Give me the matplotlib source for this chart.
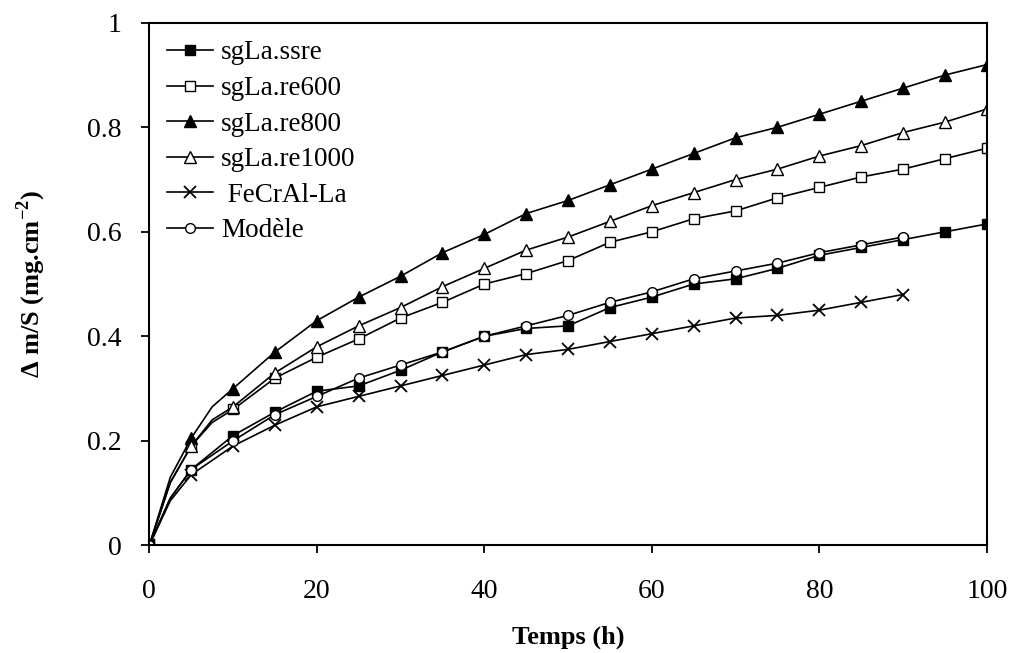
import matplotlib
matplotlib.use("Agg")
import matplotlib.pyplot as plt

plt.rcParams['font.family'] = ['Liberation Serif', 'DejaVu Serif']
plt.rcParams['mathtext.fontset'] = 'custom'
plt.rcParams['mathtext.rm'] = 'Liberation Serif'
plt.rcParams['mathtext.bf'] = 'Liberation Serif:bold'

# temps (h) -- the upper curves have extra unmarked points at 2.5 and 7.5 h,
# the lower ones at 2.5 h
t_hi = [0, 2.5, 5, 7.5, 10, 15, 20, 25, 30, 35, 40, 45, 50, 55, 60, 65, 70, 75, 80, 85, 90, 95, 100]
t_lo = [0, 2.5, 5, 10, 15, 20, 25, 30, 35, 40, 45, 50, 55, 60, 65, 70, 75, 80, 85, 90, 95, 100]
t_lo90 = t_lo[:20]

ssre = [0, 0.09, 0.145, 0.21, 0.255, 0.295, 0.305, 0.335, 0.37, 0.40, 0.415, 0.42,
        0.455, 0.475, 0.50, 0.51, 0.53, 0.555, 0.57, 0.585, 0.60, 0.615]
re600 = [0, 0.12, 0.19, 0.235, 0.26, 0.32, 0.36, 0.395, 0.435, 0.465, 0.50, 0.52, 0.545,
         0.58, 0.60, 0.625, 0.64, 0.665, 0.685, 0.705, 0.72, 0.74, 0.76]
re800 = [0, 0.13, 0.205, 0.265, 0.30, 0.37, 0.43, 0.475, 0.515, 0.56, 0.595, 0.635, 0.66,
         0.69, 0.72, 0.75, 0.78, 0.80, 0.825, 0.85, 0.875, 0.90, 0.92]
re1000 = [0, 0.12, 0.19, 0.24, 0.265, 0.33, 0.38, 0.42, 0.455, 0.495, 0.53, 0.565, 0.59,
          0.62, 0.65, 0.675, 0.70, 0.72, 0.745, 0.765, 0.79, 0.81, 0.835]
fecral = [0, 0.085, 0.135, 0.19, 0.23, 0.265, 0.285, 0.305, 0.325, 0.345, 0.365, 0.375,
          0.39, 0.405, 0.42, 0.435, 0.44, 0.45, 0.465, 0.48]
modele = [0, 0.09, 0.145, 0.20, 0.25, 0.285, 0.32, 0.345, 0.37, 0.40, 0.42, 0.44,
          0.465, 0.485, 0.51, 0.525, 0.54, 0.56, 0.575, 0.59]

# markers only every 5 h
mk_hi = [i for i, v in enumerate(t_hi) if v % 5 == 0]
mk_lo = [i for i, v in enumerate(t_lo) if v % 5 == 0]
mk_lo90 = [i for i, v in enumerate(t_lo90) if v % 5 == 0]

fig = plt.figure(figsize=(10.09, 6.53), dpi=100)
ax = fig.add_axes([0.148, 0.165, 0.830, 0.800])

lw = 1.2
ax.plot(t_lo, ssre, color='black', lw=lw, marker='s', ms=7, mfc='black', mec='black',
        markevery=mk_lo, label='sgLa.ssre')
ax.plot(t_hi, re600, color='black', lw=lw, marker='s', ms=7, mfc='white', mec='black',
        markevery=mk_hi, label='sgLa.re600')
ax.plot(t_hi, re800, color='black', lw=lw, marker='^', ms=9, mfc='black', mec='black',
        markevery=mk_hi, label='sgLa.re800')
ax.plot(t_hi, re1000, color='black', lw=lw, marker='^', ms=9, mfc='white', mec='black',
        markevery=mk_hi, label='sgLa.re1000')
ax.plot(t_lo90, fecral, color='black', lw=lw, marker='x', ms=9, mew=1.3,
        markevery=mk_lo90, label=' FeCrAl-La')
ax.plot(t_lo90, modele, color='black', lw=lw, marker='o', ms=7, mfc='white', mec='black',
        markevery=mk_lo90, label='Modèle')

ax.set_xlim(0, 100)
ax.set_ylim(0, 1)
ax.set_xticks([0, 20, 40, 60, 80, 100])
ax.set_yticks([0, 0.2, 0.4, 0.6, 0.8, 1])
ax.set_yticklabels(['0', '0.2', '0.4', '0.6', '0.8', '1'])
ax.tick_params(direction='out', length=6, width=1.3, labelsize=20)
ax.tick_params(axis='x', pad=18)
ax.tick_params(axis='y', pad=14)
for s in ax.spines.values():
    s.set_linewidth(1.5)

ax.set_xlabel('Temps (h)', fontsize=19, fontweight='bold', labelpad=16)
ax.set_ylabel(r'Δ m/S (mg.cm$^{\mathbf{-2}}$)', fontsize=19, fontweight='bold', labelpad=28)

ax.legend(loc='upper left', frameon=False, fontsize=19.5, handlelength=1.7,
          handletextpad=0.3, labelspacing=0.39, borderaxespad=0.25,
          bbox_to_anchor=(0.0, 1.0))

fig.savefig('out.png', dpi=100)
